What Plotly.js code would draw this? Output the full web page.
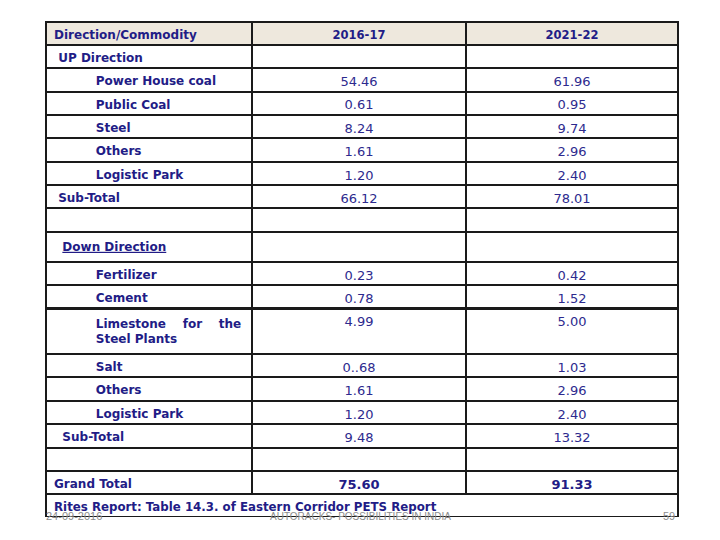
<!DOCTYPE html>
<html>
<head>
<meta charset="utf-8">
<script src="https://cdn.plot.ly/plotly-3.0.1.min.js"></script>
<style>
  body { margin: 0; background: #fff; }
  #chart { width: 720px; height: 540px; }
</style>
</head>
<body>
<div id="chart"></div>
<script>
// table data
const headers = ['Direction/Commodity', '2016-17', '2021-22'];
const commodities = ['UP Direction', 'Power House coal', 'Public Coal', 'Steel', 'Others', 'Logistic Park', 'Sub-Total', '',
  'Down Direction', 'Fertilizer', 'Cement', 'Limestone\u00a0\u00a0\u00a0\u00a0for\u00a0\u00a0\u00a0\u00a0the<br>Steel Plants',
  'Salt', 'Others', 'Logistic Park', 'Sub-Total', '', 'Grand Total'];
const indent = [1, 10, 10, 10, 10, 10, 1, 0, 2, 10, 10, 10, 10, 10, 10, 2, 0, 0];
const values2016 = ['', '54.46', '0.61', '8.24', '1.61', '1.20', '66.12', '', '', '0.23', '0.78', '4.99', '0..68', '1.61', '1.20', '9.48', '', '75.60'];
const values2021 = ['', '61.96', '0.95', '9.74', '2.96', '2.40', '78.01', '', '', '0.42', '1.52', '5.00', '1.03', '2.96', '2.40', '13.32', '', '91.33'];
const source = 'Rites Report: Table 14.3. of Eastern Corridor PETS Report';
const footer = ['24-09-2016', 'AUTORACKS- POSSIBILITIES IN INDIA', '59'];

const navy = '#221c86';
const nb = n => '\u00a0'.repeat(n);
const last = commodities.length - 1;

// plain text where possible, markup makes plotly grow the row
const col1 = commodities.map((t, i) => {
  if (!t) return '';
  const s = t.replace(/ /g, '\u00a0');
  if (t === 'Down Direction') return nb(indent[i]) + '<u>' + s + '</u>';
  return nb(indent[i]) + s.replace('<br>', '<br>' + nb(indent[i]));
});

const weights = [
  commodities.map(() => 'bold'),
  values2016.map((v, i) => i === last ? 'bold' : 'normal'),
  values2021.map((v, i) => i === last ? 'bold' : 'normal')
];
const sizes = [commodities.map(() => 12), values2016.map(() => 13), values2021.map(() => 13)];
const colors = [commodities.map(() => navy), values2016.map((v, i) => i === last ? navy : '#2d2a8e'), values2021.map((v, i) => i === last ? navy : '#2d2a8e')];

const x0 = 46 / 720, x1 = 678 / 720;

Plotly.newPlot('chart', [
  {
    type: 'table',
    domain: { x: [x0, x1], y: [40 / 540, 1 - 22 / 540] },
    columnwidth: [206, 214, 212],
    header: {
      values: headers,
      align: ['left', 'center', 'center'],
      height: 23,
      fill: { color: '#eee8dd' },
      line: { color: '#1a1a1a', width: 2 },
      font: { family: 'DejaVu Sans', size: [12, 11.5, 11.5], color: navy, weight: 'bold' }
    },
    cells: {
      values: [col1, values2016, values2021],
      align: ['left', 'center', 'center'],
      height: 23.35,
      fill: { color: '#ffffff' },
      line: { color: '#1a1a1a', width: 2 },
      font: { family: 'DejaVu Sans', size: sizes, color: colors, weight: weights }
    }
  },
  {
    type: 'table',
    domain: { x: [x0, x1], y: [23 / 540, 46 / 540] },
    header: {
      values: [source],
      align: 'left',
      height: 23,
      fill: { color: '#ffffff' },
      line: { color: '#1a1a1a', width: 2 },
      font: { family: 'DejaVu Sans', size: 11.8, color: navy, weight: 'bold' }
    }
  }
], {
  width: 720,
  height: 540,
  margin: { l: 0, r: 0, t: 0, b: 0 },
  paper_bgcolor: '#ffffff',
  font: { family: 'DejaVu Sans' },
  annotations: [
    { text: footer[0], x: 44 / 720, y: 24 / 540, xref: 'paper', yref: 'paper', xanchor: 'left', yanchor: 'middle', showarrow: false, font: { family: 'Liberation Sans', size: 11, color: '#8c8c8c' } },
    { text: footer[1], x: 360 / 720, y: 24 / 540, xref: 'paper', yref: 'paper', xanchor: 'center', yanchor: 'middle', showarrow: false, font: { family: 'Liberation Sans', size: 10, color: '#8c8c8c' } },
    { text: footer[2], x: 677 / 720, y: 24 / 540, xref: 'paper', yref: 'paper', xanchor: 'right', yanchor: 'middle', showarrow: false, font: { family: 'Liberation Sans', size: 11, color: '#8c8c8c' } }
  ]
}, { displayModeBar: false, staticPlot: true });
</script>
</body>
</html>
